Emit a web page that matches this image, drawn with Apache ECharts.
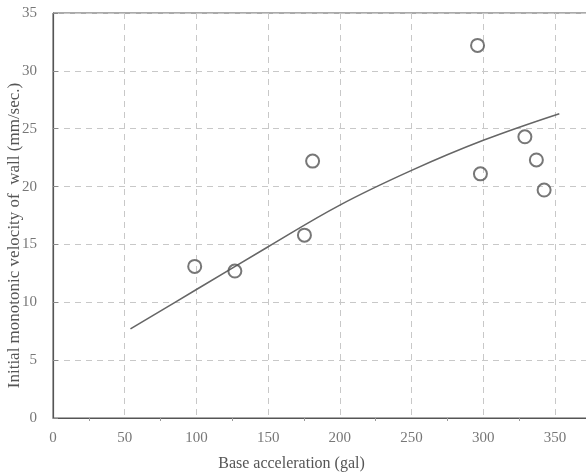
<!DOCTYPE html>
<html>
<head>
<meta charset="utf-8">
<script src="https://cdn.jsdelivr.net/npm/echarts@6/dist/echarts.min.js"></script>
<style>html,body{margin:0;padding:0;background:#fff;}#c{width:586px;height:475px;}</style>
</head>
<body>
<div id="c"></div>
<script>
// Measured points
const pointX = [98.8, 126.8, 175.3, 181, 296, 298, 329, 337, 342.4];
const pointY = [13.1, 12.7, 15.8, 22.2, 32.2, 21.1, 24.3, 22.3, 19.7];
// Fitted curve
const curveX = [54, 100, 150, 200, 250, 300, 353];
const curveY = [7.7, 11.1, 14.8, 18.4, 21.4, 24.0, 26.3];
const xTicks = [0, 50, 100, 150, 200, 250, 300, 350];
const yTicks = [0, 5, 10, 15, 20, 25, 30, 35];

const chart = echarts.init(document.getElementById('c'), null, {renderer: 'canvas'});
const font = '"Liberation Serif", "DejaVu Serif", serif';
chart.setOption({
  animation: false,
  backgroundColor: '#fff',
  grid: {left: 53, top: 13, bottom: 57, right: -2, outerBoundsMode: 'none', containLabel: false,
    show: true, borderColor: '#555', borderWidth: 1, backgroundColor: 'transparent'},
  xAxis: {
    type: 'value', min: 0, max: 373, interval: 50,
    name: 'Base acceleration (gal)', nameLocation: 'middle', nameGap: 38, nameMoveOverlap: false,
    nameTextStyle: {fontFamily: font, fontSize: 16, color: '#555', padding: [0, 58, 0, 0]},
    axisLine: {show: true, lineStyle: {color: '#555', width: 1.2}},
    axisTick: {show: false},
    minorTick: {show: true, splitNumber: 2, length: 3, lineStyle: {color: '#999'}},
    axisLabel: {fontFamily: font, fontSize: 15, color: '#777', margin: 13, showMaxLabel: false,
      formatter: v => xTicks.includes(v) ? String(v) : ''},
    splitLine: {show: true, lineStyle: {color: '#c8c8c8', type: [6, 5], width: 1}}
  },
  yAxis: {
    type: 'value', min: 0, max: 35, interval: 5,
    name: 'Initial monotonic velocity of  wall (mm/sec.)', nameLocation: 'middle', nameGap: 30, nameMoveOverlap: false,
    nameTextStyle: {fontFamily: font, fontSize: 17, color: '#555', padding: [0, 40, 0, 0]},
    axisLine: {show: true, lineStyle: {color: '#555', width: 1.2}},
    axisTick: {show: true, inside: true, length: 5, lineStyle: {color: '#888'}},
    axisLabel: {fontFamily: font, fontSize: 15, color: '#777', margin: 16,
      formatter: v => yTicks.includes(v) ? String(v) : ''},
    splitLine: {show: true, lineStyle: {color: '#c8c8c8', type: [6, 5], width: 1}}
  },
  series: [
    {
      type: 'line', data: curveX.map((x, i) => [x, curveY[i]]), smooth: 0.4, showSymbol: false,
      lineStyle: {color: '#666', width: 1.6}, z: 3
    },
    {
      type: 'scatter', data: pointX.map((x, i) => [x, pointY[i]]), symbol: 'circle', symbolSize: 13,
      itemStyle: {color: 'rgba(255,255,255,0)', borderColor: '#555', borderWidth: 2}, z: 4
    }
  ]
});
</script>
</body>
</html>
